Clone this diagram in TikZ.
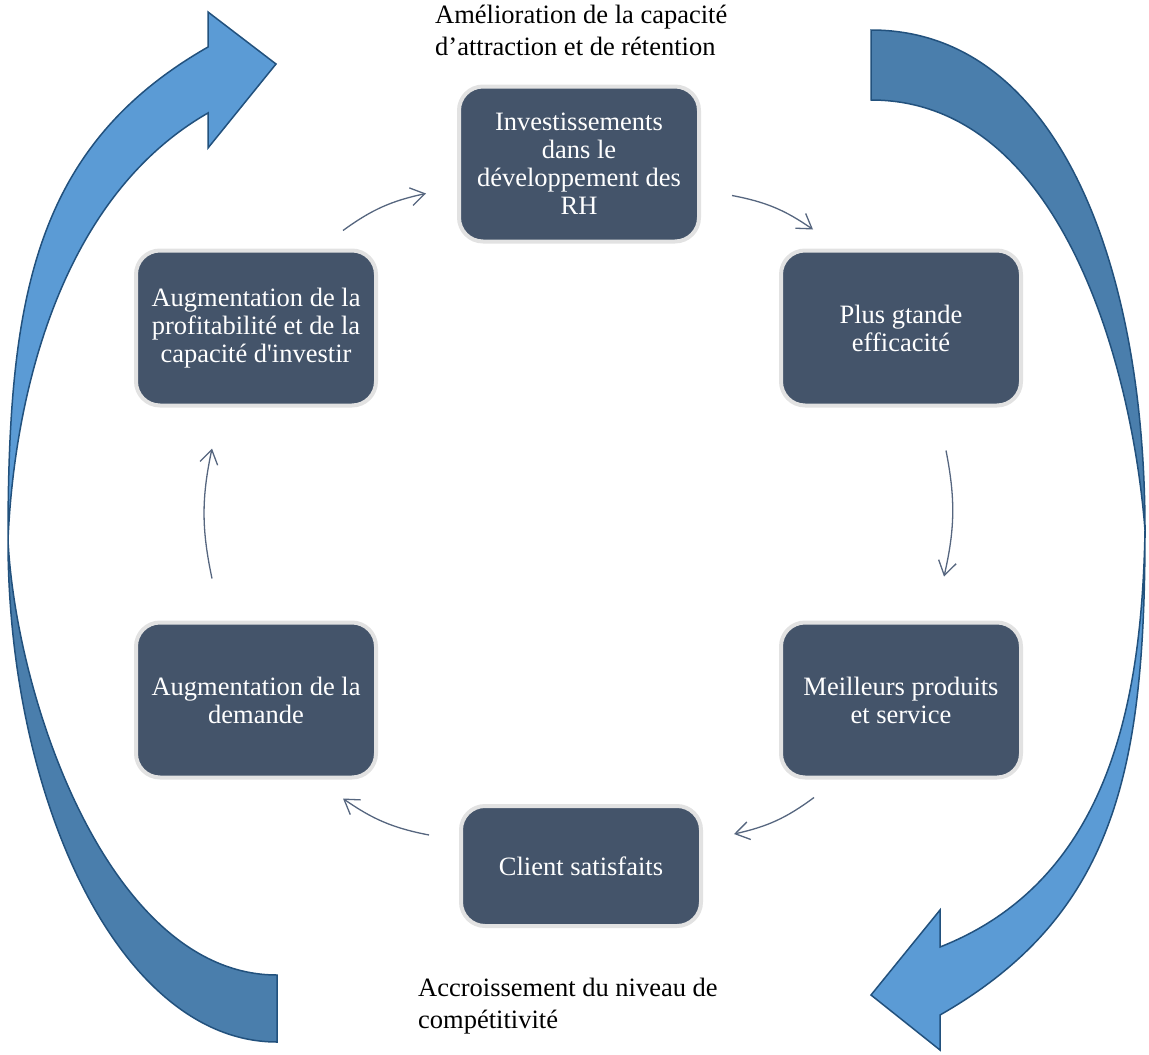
\documentclass[tikz,border=0pt]{standalone}
\usepackage{fontspec}
\setmainfont{Liberation Serif}
\usetikzlibrary{arrows.meta}
\definecolor{boxfill}{HTML}{44546A}
\definecolor{boxrim}{HTML}{E2E2E2}
\definecolor{flow}{HTML}{56667F}
\definecolor{lightblue}{HTML}{5B9BD5}
\definecolor{darkblue}{HTML}{4A7EAC}
\definecolor{rim}{HTML}{22517D}

\begin{document}
\begin{tikzpicture}[x=1pt,y=-1pt,
  stage/.style={draw=boxrim,line width=4pt,fill=boxfill,rounded corners=24pt,text=white,
    minimum width=240pt,minimum height=155pt,align=center,inner sep=0pt,
    font=\fontsize{26.5}{28}\selectfont},
  flowarrow/.style={draw=flow,line width=1.3pt,-{Straight Barb[length=14pt,width=18pt]},bend left=12},
  bigarrow/.style={draw=rim,line width=1.5pt,line join=miter},
  note/.style={anchor=north west,align=left,inner sep=0pt,font=\fontsize{26.5}{32}\selectfont}]
  \useasboundingbox (0,0) rectangle (1149,1055);

  % big curved arrows
  \filldraw[bigarrow,fill=darkblue] (8,540) .. controls (8,800) and (120,1042) .. (277,1042)
    -- (277,975) .. controls (110,975) and (16,700) .. (8,540) -- cycle;
  \filldraw[bigarrow,fill=lightblue] (8,540) .. controls (14,400) and (58,199) .. (208,113)
    -- (208,148) -- (276,64) -- (208,12) -- (208,47) .. controls (33,147) and (8,300) .. (8,540) -- cycle;
  \filldraw[bigarrow,fill=darkblue] (1145,530) .. controls (1145,270) and (1060,30) .. (871,30)
    -- (871,100) .. controls (1060,100) and (1132,364) .. (1145,530) -- cycle;
  \filldraw[bigarrow,fill=lightblue] (1145,530) .. controls (1142,700) and (1110,880) .. (940,947)
    -- (940,910) -- (871,995) -- (940,1050) -- (940,1015) .. controls (1115,915) and (1145,770) .. (1145,530) -- cycle;

  % cycle boxes
  \node[stage] (inv) at (579,164) {Investissements\\dans le\\développement des\\RH};
  \node[stage] (eff) at (901,328) {Plus gtande\\efficacité};
  \node[stage] (prod) at (901,700) {Meilleurs produits\\et service};
  \node[stage,minimum height=120pt] (cli) at (581,866) {Client satisfaits};
  \node[stage] (dem) at (256,700) {Augmentation de la\\demande};
  \node[stage] (prof) at (256,328) {Augmentation de la\\profitabilité et de la\\capacité d\textquotesingle investir};

  % arrows between boxes
  \draw[flowarrow] ([shift={(-35,-18)}]prof.north east) to ([shift={(-31,-50)}]inv.south west);
  \draw[flowarrow] ([shift={(31,-48)}]inv.south east) to ([shift={(34,-19)}]eff.north west);
  \draw[flowarrow] ([shift={(45,43)}]eff.south) to ([shift={(43,-44)}]prod.north);
  \draw[flowarrow] ([shift={(35,18)}]prod.south west) to ([shift={(31,30)}]cli.north east);
  \draw[flowarrow] ([shift={(-30,31)}]cli.north west) to ([shift={(-35,19)}]dem.south east);
  \draw[flowarrow] ([shift={(-44,-42)}]dem.north) to ([shift={(-44,41)}]prof.south);

  % outer captions
  \node[note] (gain) at (435,5) {Amélioration de la capacité\\d’attraction et de rétention};
  \node[note] (comp) at (418,978) {Accroissement du niveau de\\compétitivité};
\end{tikzpicture}
\end{document}
